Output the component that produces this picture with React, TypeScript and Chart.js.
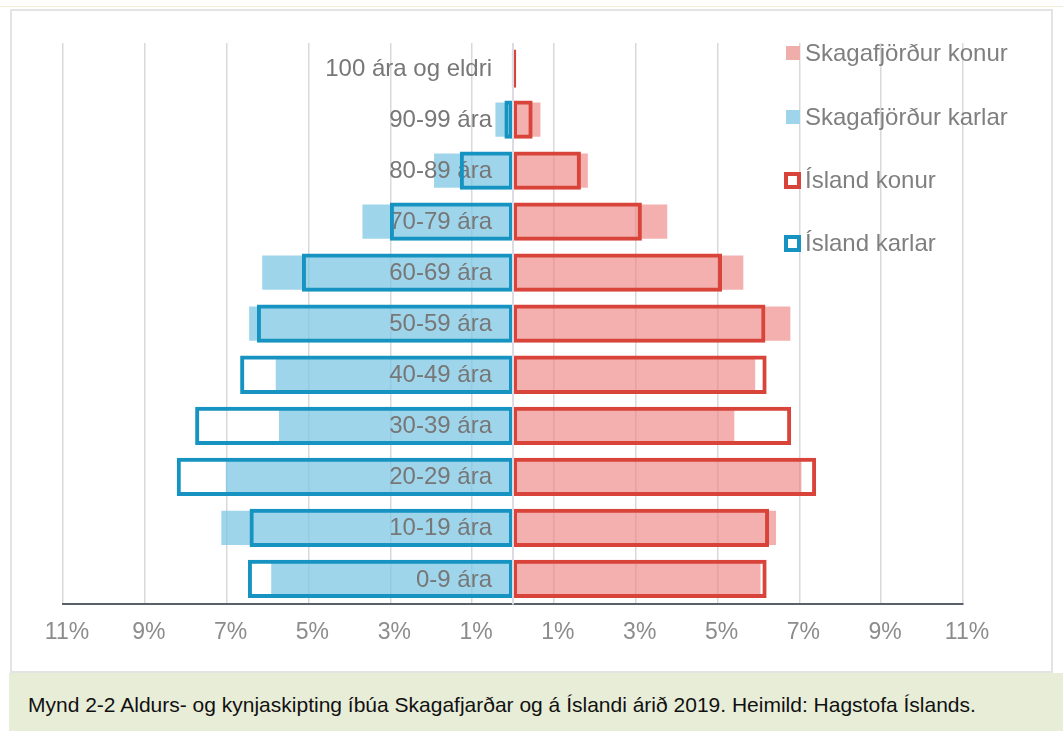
import React, { useEffect, useRef } from 'react';
import { Chart, registerables } from 'chart.js';

Chart.register(...registerables);

// ---- Data (percent of population) ----
const categories = [
  '100 ára og eldri',
  '90-99 ára',
  '80-89 ára',
  '70-79 ára',
  '60-69 ára',
  '50-59 ára',
  '40-49 ára',
  '30-39 ára',
  '20-29 ára',
  '10-19 ára',
  '0-9 ára',
];

const skagafjordurKonur = [0.04, 0.67, 1.83, 3.77, 5.63, 6.78, 5.92, 5.41, 7.05, 6.43, 6.05];
const skagafjordurKarlar = [0.02, 0.43, 1.93, 3.68, 6.13, 6.45, 5.8, 5.72, 7.02, 7.13, 5.91];
const islandKonur = [0.08, 0.48, 1.66, 3.15, 5.11, 6.17, 6.2, 6.8, 7.41, 6.26, 6.2];
const islandKarlar = [0.03, 0.21, 1.3, 3.01, 5.16, 6.26, 6.67, 7.77, 8.22, 6.44, 6.48];

const xMin = -11;
const xMax = 11;
const xStep = 2;

const seriesNames = ['Skagafjörður konur', 'Skagafjörður karlar', 'Ísland konur', 'Ísland karlar'];
const captionText =
  'Mynd 2-2 Aldurs- og kynjaskipting íbúa Skagafjarðar og á Íslandi árið 2019. Heimild: Hagstofa Íslands.';

// ---- Styles ----
const FONT = '"Liberation Sans", Arial, Helvetica, sans-serif';
const RED = '#d8443a';
const BLUE = '#1693c0';
const PINK_FILL = 'rgba(235, 128, 124, 0.62)';
const BLUE_FILL = 'rgba(125, 199, 228, 0.74)';
const LEGEND_PINK = '#f0aeab';
const LEGEND_BLUE = '#9fd5ea';

const pyramidPlugin = {
  id: 'pyramidExtras',
  beforeDatasetsDraw(chart: any) {
    chart.$labelsDrawn = false;
  },
  beforeDatasetDraw(chart: any, args: any) {
    const ds = chart.data.datasets[args.index];
    if (ds.kind === 'outline' && !chart.$labelsDrawn) {
      drawCategoryLabels(chart);
      chart.$labelsDrawn = true;
    }
  },
  afterDatasetsDraw(chart: any) {
    if (!chart.$labelsDrawn) {
      drawCategoryLabels(chart);
      chart.$labelsDrawn = true;
    }
    const { ctx, chartArea } = chart;
    const x0 = chart.scales.x.getPixelForValue(0);
    ctx.save();
    ctx.strokeStyle = '#dcdbe3';
    ctx.lineWidth = 2;
    ctx.beginPath();
    ctx.moveTo(x0, chartArea.top);
    ctx.lineTo(x0, chartArea.bottom);
    ctx.stroke();
    ctx.restore();
  },
  afterDraw(chart: any) {
    const { ctx } = chart;
    const items = [
      { text: seriesNames[0], type: 'fill', color: LEGEND_PINK },
      { text: seriesNames[1], type: 'fill', color: LEGEND_BLUE },
      { text: seriesNames[2], type: 'outline', color: RED },
      { text: seriesNames[3], type: 'outline', color: BLUE },
    ];
    const ys = [53, 117, 180, 243];
    ctx.save();
    ctx.font = `24px ${FONT}`;
    ctx.textAlign = 'left';
    ctx.textBaseline = 'middle';
    items.forEach((it, i) => {
      const y = ys[i];
      if (it.type === 'fill') {
        ctx.fillStyle = it.color;
        ctx.fillRect(786, y - 7, 14, 14);
      } else {
        ctx.fillStyle = it.color;
        ctx.fillRect(784, y - 8, 17, 17);
        ctx.fillStyle = '#ffffff';
        ctx.fillRect(788, y - 4, 9, 9);
      }
      ctx.fillStyle = '#7f7f7f';
      ctx.fillText(it.text, 805, y + 1);
    });
    ctx.restore();
  },
};

function drawCategoryLabels(chart: any) {
  const { ctx } = chart;
  const xs = chart.scales.x;
  const ys = chart.scales.y;
  const x0 = xs.getPixelForValue(0);
  ctx.save();
  ctx.font = `24px ${FONT}`;
  ctx.fillStyle = '#777777';
  ctx.textAlign = 'right';
  ctx.textBaseline = 'middle';
  chart.data.labels.forEach((lab: string, i: number) => {
    ctx.fillText(lab, x0 - 21, ys.getPixelForValue(i) + 1);
  });
  ctx.restore();
}

export default function App() {
  const canvasRef = useRef<HTMLCanvasElement | null>(null);

  useEffect(() => {
    if (!canvasRef.current) return;
    const chart = new Chart(canvasRef.current, {
      type: 'bar',
      data: {
        labels: categories,
        datasets: [
          {
            label: seriesNames[2],
            kind: 'outline',
            data: islandKonur,
            backgroundColor: 'rgba(0,0,0,0)',
            borderColor: RED,
            borderWidth: 4,
            borderSkipped: false,
            barPercentage: 0.75,
            categoryPercentage: 1,
            grouped: false,
            order: 0,
          } as any,
          {
            label: seriesNames[3],
            kind: 'outline',
            data: islandKarlar.map((v) => -v),
            backgroundColor: 'rgba(0,0,0,0)',
            borderColor: BLUE,
            borderWidth: 4,
            borderSkipped: false,
            barPercentage: 0.75,
            categoryPercentage: 1,
            grouped: false,
            order: 0,
          } as any,
          {
            label: seriesNames[0],
            kind: 'fill',
            data: skagafjordurKonur,
            backgroundColor: PINK_FILL,
            borderWidth: 0,
            barPercentage: 0.67,
            categoryPercentage: 1,
            grouped: false,
            order: 1,
          } as any,
          {
            label: seriesNames[1],
            kind: 'fill',
            data: skagafjordurKarlar.map((v) => -v),
            backgroundColor: BLUE_FILL,
            borderWidth: 0,
            barPercentage: 0.67,
            categoryPercentage: 1,
            grouped: false,
            order: 1,
          } as any,
        ],
      },
      options: {
        indexAxis: 'y',
        responsive: false,
        maintainAspectRatio: false,
        animation: false,
        layout: { padding: { left: 63, right: 100, top: 43, bottom: 13 } },
        plugins: {
          legend: { display: false },
          tooltip: { enabled: false },
          title: { display: false },
        },
        scales: {
          x: {
            type: 'linear',
            min: xMin,
            max: xMax,
            grid: {
              color: '#d9d9d9',
              lineWidth: 1.5,
              drawTicks: false,
            },
            border: { display: true, color: '#58606b', width: 2 },
            ticks: {
              stepSize: xStep,
              autoSkip: false,
              padding: 14,
              labelOffset: 4,
              color: '#8c8c8c',
              font: { family: FONT, size: 23 },
              callback: (v: any) => Math.abs(Number(v)) + '%',
            },
          },
          y: {
            type: 'category',
            display: false,
            grid: { display: false },
          },
        },
      },
      plugins: [pyramidPlugin],
    } as any);
    return () => chart.destroy();
  }, []);

  return (
    <div
      style={{
        position: 'absolute',
        left: 0,
        top: 0,
        width: 1063,
        height: 731,
        background: '#ffffff',
        overflow: 'hidden',
        fontFamily: FONT,
      }}
    >
      <div style={{ position: 'absolute', left: 0, top: 6, width: 1063, height: 1, background: '#efedd3' }} />
      <div
        style={{
          position: 'absolute',
          left: 10,
          top: 9,
          width: 1043,
          height: 664,
          boxSizing: 'border-box',
          border: '2px solid #e3e3e3',
        }}
      />
      <canvas
        ref={canvasRef}
        width={1063}
        height={673}
        style={{ position: 'absolute', left: 0, top: 0, display: 'block' }}
      />
      <div
        style={{
          position: 'absolute',
          left: 9,
          top: 673,
          width: 1054,
          height: 58,
          background: '#e8edd8',
          boxSizing: 'border-box',
          paddingLeft: 19,
          paddingTop: 20,
          fontSize: 21,
          lineHeight: '24px',
          color: '#111111',
          whiteSpace: 'nowrap',
        }}
      >
        {captionText}
      </div>
    </div>
  );
}
